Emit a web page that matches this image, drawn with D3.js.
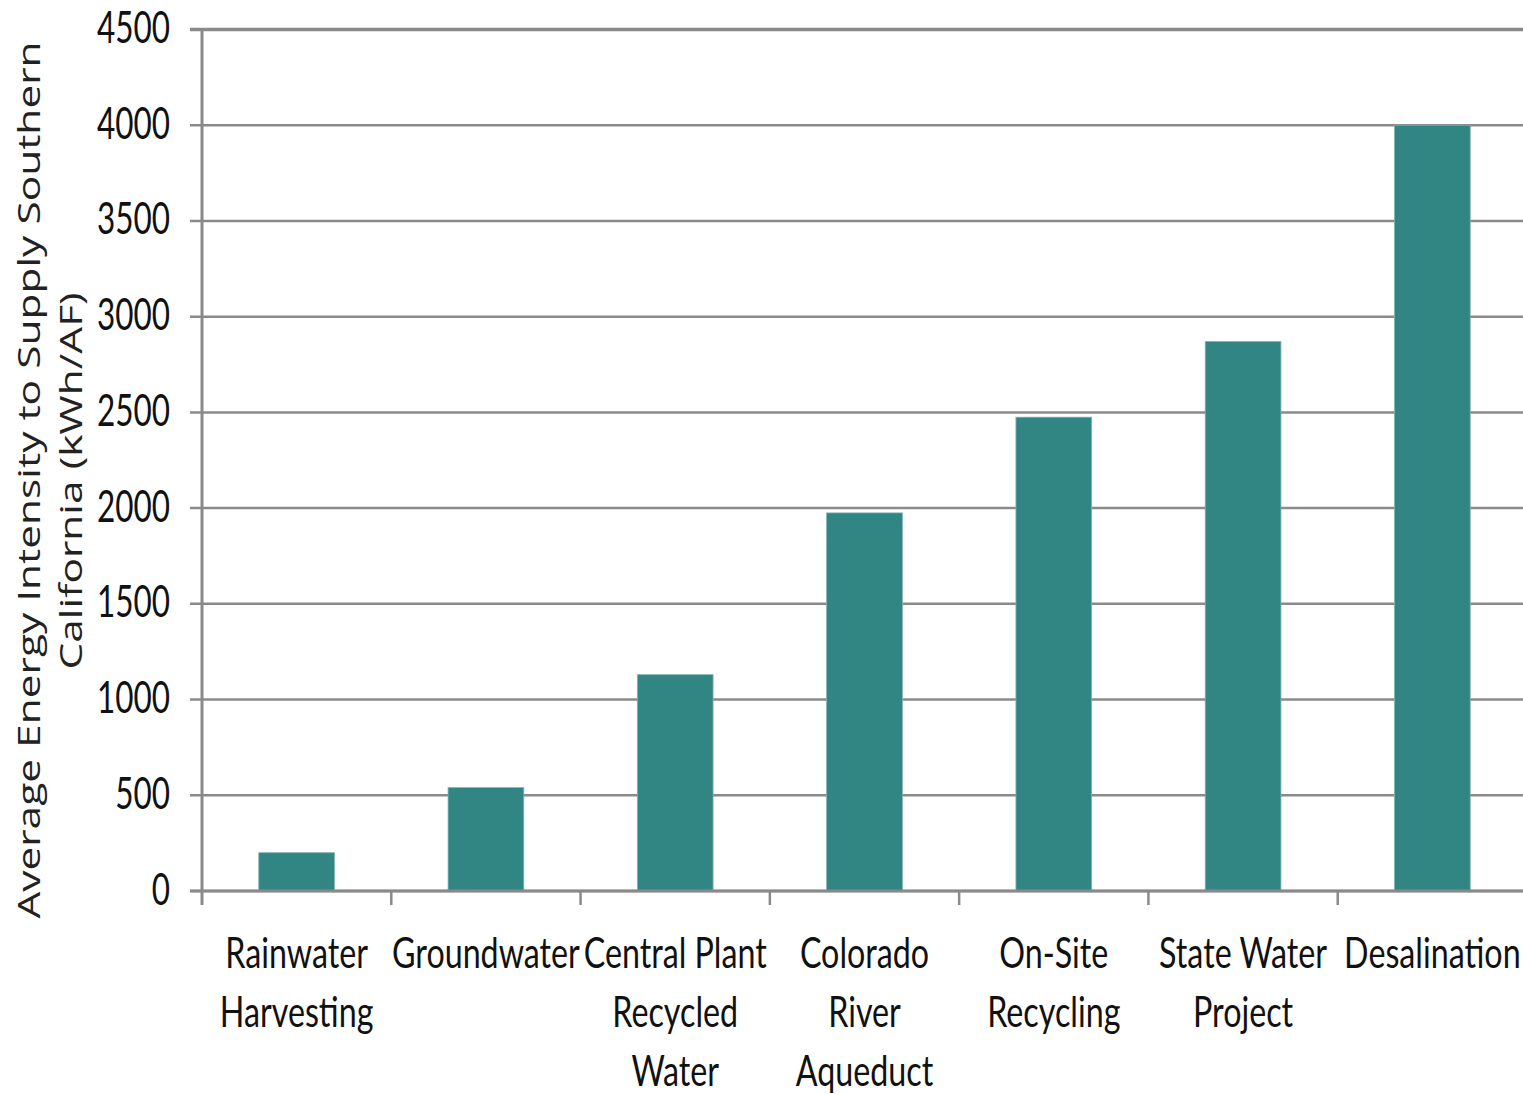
<!DOCTYPE html>
<html>
<head>
<meta charset="utf-8">
<script src="https://cdn.jsdelivr.net/npm/d3@7"></script>
<style>
  html, body { margin: 0; padding: 0; background: #fff; }
  svg { display: block; }
</style>
</head>
<body>
<script>
const categories = [
  ["Rainwater", "Harvesting"],
  ["Groundwater"],
  ["Central Plant", "Recycled", "Water"],
  ["Colorado", "River", "Aqueduct"],
  ["On-Site", "Recycling"],
  ["State Water", "Project"],
  ["Desalination"]
];
const values = [200, 540, 1130, 1975, 2475, 2870, 4000];
const yTicks = [0, 500, 1000, 1500, 2000, 2500, 3000, 3500, 4000, 4500];
const yTitle = ["Average Energy Intensity to Supply Southern", "California (kWh/AF)"];

const W = 1523, H = 1094;
const svg = d3.select("body").append("svg").attr("width", W).attr("height", H);

const x = d3.scaleBand().domain(d3.range(categories.length)).range([202, 1527]).padding(0);
const y = d3.scaleLinear().domain([0, 4500]).range([891, 29.5]);
const barW = x.bandwidth() * 0.4;
const grid = "#8a8a8a";

// gridlines
svg.append("g").selectAll("line").data(yTicks).join("line")
  .attr("x1", 190).attr("x2", W)
  .attr("y1", d => y(d)).attr("y2", d => y(d))
  .attr("stroke", grid)
  .attr("stroke-width", d => d === 4500 ? 3.5 : 2.5);

// bars
svg.append("g").selectAll("rect").data(values).join("rect")
  .attr("x", (d, i) => x(i) + (x.bandwidth() - barW) / 2)
  .attr("width", barW)
  .attr("y", d => y(d))
  .attr("height", d => y(0) - y(d))
  .attr("fill", "#318582")
  .attr("stroke", "#7fb3b0").attr("stroke-width", 0.8);

// x axis line
svg.append("line").attr("x1", 190).attr("x2", W).attr("y1", y(0)).attr("y2", y(0))
  .attr("stroke", grid).attr("stroke-width", 3);
// y axis line
svg.append("line").attr("x1", 202).attr("x2", 202).attr("y1", y(4500)).attr("y2", y(0) + 14)
  .attr("stroke", grid).attr("stroke-width", 3);
// x ticks at band boundaries
svg.append("g").selectAll("line").data(d3.range(1, categories.length)).join("line")
  .attr("x1", d => x(d)).attr("x2", d => x(d))
  .attr("y1", y(0)).attr("y2", y(0) + 14)
  .attr("stroke", grid).attr("stroke-width", 2.5);

// y tick labels
svg.append("g").selectAll("text").data(yTicks).join("text")
  .attr("transform", d => `translate(170,${y(d) + 13.5}) scale(1.05,1.45)`)
  .attr("text-anchor", "end")
  .attr("font-family", "Lato, 'Open Sans', sans-serif")
  .attr("font-size", 30)
  .attr("fill", "#111")
  .text(d => d);

// category labels
const cat = svg.append("g");
categories.forEach((lines, i) => {
  lines.forEach((t, j) => {
    cat.append("text")
      .attr("transform", `translate(${x(i) + x.bandwidth() / 2},${968 + j * 59}) scale(1.04,1.35)`)
      .attr("text-anchor", "middle")
      .attr("font-family", "Lato, 'Open Sans', sans-serif")
      .attr("font-size", 31)
      .attr("fill", "#111")
      .text(t);
  });
});

// y title
yTitle.forEach((t, j) => {
  svg.append("text")
    .attr("transform", `translate(${40 + j * 42},${j === 0 ? 480 : 481}) rotate(-90) scale(1.37,1)`)
    .attr("text-anchor", "middle")
    .attr("font-family", "'Open Sans', sans-serif")
    .attr("font-size", 31)
    .attr("fill", "#222")
    .text(t);
});
</script>
</body>
</html>
